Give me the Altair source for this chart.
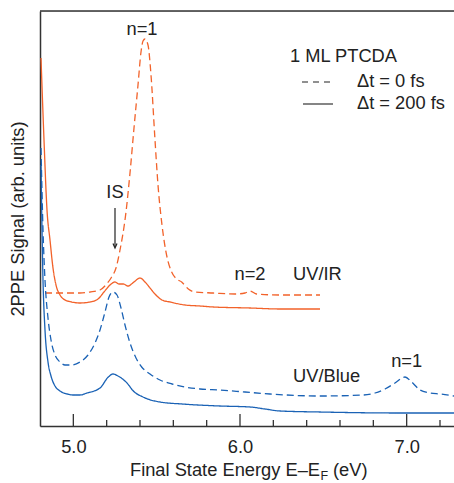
import altair as alt
import pandas as pd

FONT = "Liberation Sans"
ORANGE = "#F2622A"
BLUE = "#1A62B5"
INK = "#222222"
FS = 18.3

W, H = 414, 415
X_DOMAIN = [4.8, 7.284]
Y_DOMAIN = [0, 415]

# ---- UV/IR, dt = 0 fs (dashed orange)
uvir0_E = [4.83, 4.92, 5.04, 5.10, 5.16, 5.20, 5.23, 5.256, 5.28, 5.316, 5.34, 5.364,
           5.388, 5.406, 5.418, 5.43, 5.448, 5.466, 5.49, 5.508, 5.532, 5.562, 5.59,
           5.62, 5.65, 5.69, 5.73, 5.84, 5.97, 6.03, 6.06, 6.10, 6.24, 6.48]
uvir0_v = [133, 133, 133, 134, 136, 142, 149, 158, 176, 214, 253, 298,
           341, 374, 385, 387, 381, 351, 286, 241, 201, 169, 154,
           147, 144, 137, 134, 133, 132, 133, 135, 132, 131, 131]

# ---- UV/IR, dt = 200 fs (solid orange)
uvir200_E = [4.806, 4.824, 4.842, 4.86, 4.878, 4.896, 4.92, 4.95, 4.99, 5.04, 5.10,
             5.148, 5.184, 5.22, 5.25, 5.274, 5.30, 5.328, 5.364, 5.40, 5.43, 5.46,
             5.49, 5.532, 5.58, 5.67, 5.76, 5.84, 6.06, 6.24, 6.48]
uvir200_v = [368, 286, 216, 186, 158, 141, 131, 126, 124, 123, 124,
             127, 134, 141, 144, 142, 142, 140, 144, 148, 144, 138,
             132, 126, 124, 121, 120, 119, 118, 117, 117]

# ---- UV/Blue, dt = 0 fs (dashed blue)
uvb0_E = [4.806, 4.818, 4.83, 4.848, 4.866, 4.89, 4.92, 4.95, 4.99, 5.04, 5.088, 5.13,
          5.16, 5.19, 5.214, 5.238, 5.262, 5.286, 5.31, 5.34, 5.376, 5.41, 5.46, 5.52,
          5.592, 5.67, 5.76, 5.88, 6.03, 6.18, 6.48, 6.74, 6.81, 6.87, 6.93, 6.99,
          7.03, 7.08, 7.14, 7.20, 7.284]
uvb0_v = [278, 196, 146, 108, 86, 71, 64, 61, 61, 64, 71, 83,
          96, 114, 129, 134, 131, 118, 101, 83, 68, 59, 52, 46,
          42, 39, 37, 36, 34, 32, 30, 31, 33, 37, 43, 49,
          44, 36, 33, 32, 30]

# ---- UV/Blue, dt = 200 fs (solid blue)
uvb200_E = [4.806, 4.818, 4.83, 4.848, 4.866, 4.89, 4.92, 4.962, 5.0, 5.04, 5.082, 5.16,
            5.21, 5.238, 5.268, 5.322, 5.36, 5.418, 5.52, 5.652, 5.88, 6.06, 6.15,
            6.24, 6.48, 6.96, 7.284]
uvb200_v = [261, 146, 96, 64, 50, 40, 35, 32, 31, 31, 33, 38,
            49, 52, 50, 43, 35, 29, 24, 22, 20, 19, 17,
            15, 14, 13, 13]

series = [
    ("UV/IR", "0 fs", uvir0_E, uvir0_v),
    ("UV/IR", "200 fs", uvir200_E, uvir200_v),
    ("UV/Blue", "0 fs", uvb0_E, uvb0_v),
    ("UV/Blue", "200 fs", uvb200_E, uvb200_v),
]
rows = []
for beam, delay, es, vs in series:
    for i, (e, v) in enumerate(zip(es, vs)):
        rows.append({"beam": beam, "delay": delay, "sid": beam + delay, "i": i, "E": e, "v": v})
df = pd.DataFrame(rows)

major_ticks = [5.0, 6.0, 7.0]
minor_ticks = [5.2, 5.4, 5.6, 5.8, 6.2, 6.4, 6.6, 6.8, 7.2]

# annotations (in data coordinates)
center_labels = pd.DataFrame({
    "text": ["n=1", "IS", "n=2", "n=1"],
    "E": [5.412, 5.25, 6.06, 7.0],
    "v": [396, 233, 151, 64],
})
left_labels = pd.DataFrame({
    "text": ["UV/IR", "UV/Blue"],
    "E": [6.318, 6.318],
    "v": [151, 49],
})
arrow_shaft = pd.DataFrame({"E": [5.25], "v": [218], "v2": [179]})
arrow_head = pd.DataFrame({"E": [5.25], "v": [178]})

xs = alt.Scale(domain=X_DOMAIN, nice=False, zero=False)
ys = alt.Scale(domain=Y_DOMAIN, nice=False, zero=False)

lines = alt.Chart(df).mark_line(strokeWidth=1.3, interpolate="monotone", clip=True).encode(
    x=alt.X("E:Q", scale=xs,
            axis=alt.Axis(values=major_ticks, format=".1f", ticks=False, tickSize=0,
                          labelFontSize=FS, labelFont=FONT, labelColor=INK,
                          labelPadding=12, domainColor="#333333", domainWidth=1.5,
                          grid=False, title=None)),
    y=alt.Y("v:Q", scale=ys,
            axis=alt.Axis(labels=False, ticks=False, grid=False, title=None,
                          domainColor="#333333", domainWidth=1.5)),
    color=alt.Color("beam:N", scale=alt.Scale(domain=["UV/IR", "UV/Blue"], range=[ORANGE, BLUE]), legend=None),
    strokeDash=alt.StrokeDash("delay:N", scale=alt.Scale(domain=["0 fs", "200 fs"], range=[[7, 4], [1, 0]]), legend=None),
    detail="sid:N",
    order="i:Q",
)

maj = alt.Chart(pd.DataFrame({"E": major_ticks})).mark_rule(color="#333333", strokeWidth=1.3).encode(
    x=alt.X("E:Q", scale=xs), y=alt.value(H), y2=alt.value(H - 12))
mino = alt.Chart(pd.DataFrame({"E": minor_ticks})).mark_rule(color="#333333", strokeWidth=1.3).encode(
    x=alt.X("E:Q", scale=xs), y=alt.value(H), y2=alt.value(H - 6))

top_border = alt.Chart(pd.DataFrame({"a": [0]})).mark_rule(color="#333333", strokeWidth=1.5).encode(
    x=alt.value(0), x2=alt.value(W), y=alt.value(0))

txt_c = alt.Chart(center_labels).mark_text(font=FONT, fontSize=FS, color=INK, align="center", baseline="middle").encode(
    x=alt.X("E:Q", scale=xs), y=alt.Y("v:Q", scale=ys), text="text:N")
txt_l = alt.Chart(left_labels).mark_text(font=FONT, fontSize=FS, color=INK, align="left", baseline="middle").encode(
    x=alt.X("E:Q", scale=xs), y=alt.Y("v:Q", scale=ys), text="text:N")

shaft = alt.Chart(arrow_shaft).mark_rule(color=INK, strokeWidth=1.2).encode(
    x=alt.X("E:Q", scale=xs), y=alt.Y("v:Q", scale=ys), y2="v2:Q")
head = alt.Chart(arrow_head).mark_point(shape="M -0.45 -1 L 0 0 L 0.45 -1", filled=False, color=INK,
                                        strokeWidth=1.2, size=80, opacity=1).encode(
    x=alt.X("E:Q", scale=xs), y=alt.Y("v:Q", scale=ys))

# legend (drawn inside plot)
leg_title = alt.Chart(pd.DataFrame({"t": ["1 ML PTCDA"]})).mark_text(
    font=FONT, fontSize=FS, color=INK, align="left", baseline="middle").encode(
    x=alt.value(250), y=alt.value(46), text="t:N")
leg_t0 = alt.Chart(pd.DataFrame({"t": ["\u0394t = 0  fs"]})).mark_text(
    font=FONT, fontSize=FS, color=INK, align="left", baseline="middle").encode(
    x=alt.value(317), y=alt.value(71), text="t:N")
leg_t200 = alt.Chart(pd.DataFrame({"t": ["\u0394t = 200 fs"]})).mark_text(
    font=FONT, fontSize=FS, color=INK, align="left", baseline="middle").encode(
    x=alt.value(317), y=alt.value(93), text="t:N")
leg_dash = alt.Chart(pd.DataFrame({"a": [0]})).mark_rule(color=INK, strokeWidth=1.1, strokeDash=[6, 5]).encode(
    x=alt.value(262), x2=alt.value(292), y=alt.value(71))
leg_solid = alt.Chart(pd.DataFrame({"a": [0]})).mark_rule(color=INK, strokeWidth=1.1).encode(
    x=alt.value(263), x2=alt.value(293), y=alt.value(93))

# axis titles
ytitle = alt.Chart(pd.DataFrame({"t": ["2PPE Signal (arb. units)"]})).mark_text(
    font=FONT, fontSize=FS, color=INK, angle=270, align="center", baseline="middle").encode(
    x=alt.value(-21), y=alt.value(208), text="t:N")
xt_main = alt.Chart(pd.DataFrame({"t": ["Final State Energy E\u2013E"]})).mark_text(
    font=FONT, fontSize=FS, color=INK, align="right", baseline="alphabetic").encode(
    x=alt.value(280), y=alt.value(465), text="t:N")
xt_sub = alt.Chart(pd.DataFrame({"t": ["F"]})).mark_text(
    font=FONT, fontSize=12.5, color=INK, align="left", baseline="alphabetic").encode(
    x=alt.value(280.5), y=alt.value(469), text="t:N")
xt_end = alt.Chart(pd.DataFrame({"t": ["(eV)"]})).mark_text(
    font=FONT, fontSize=FS, color=INK, align="left", baseline="alphabetic").encode(
    x=alt.value(293), y=alt.value(465), text="t:N")

chart = alt.layer(
    lines, maj, mino, top_border, txt_c, txt_l, shaft, head,
    leg_title, leg_t0, leg_t200, leg_dash, leg_solid,
    ytitle, xt_main, xt_sub, xt_end,
).properties(
    width=W, height=H,
    autosize=alt.AutoSizeParams(type="none"),
    padding={"left": 40, "top": 11, "right": 0, "bottom": 57},
).configure_view(stroke=None).configure(background="white")

chart.save("out.html", embed_options={"renderer": "svg", "actions": False})
